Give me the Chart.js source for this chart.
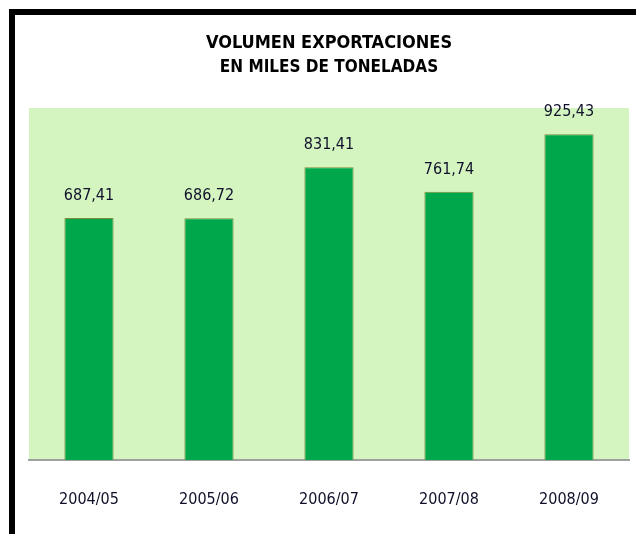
<!DOCTYPE html>
<html>
<head>
<meta charset="utf-8">
<script src="https://cdn.jsdelivr.net/npm/chart.js@4/dist/chart.umd.min.js"></script>
<style>
  html, body { margin: 0; padding: 0; background: #fff; }
  #frame {
    position: absolute; left: 9px; top: 9px; width: 640px; height: 540px;
    border-top: 6px solid #000; border-left: 6px solid #000;
  }
  #chart { position: absolute; left: 0; top: 0; }
</style>
</head>
<body>
<div id="frame"></div>
<canvas id="chart" width="636" height="534"></canvas>
<script>
// datos
const campanas = ['2004/05', '2005/06', '2006/07', '2007/08', '2008/09'];
const volumen = [687.41, 686.72, 831.41, 761.74, 925.43];
const titulo = 'VOLUMEN EXPORTACIONES';
const subtitulo = 'EN MILES DE TONELADAS';

const FONT = "'DejaVu Sans Condensed', 'DejaVu Sans', sans-serif";

function formatValor(v) {
  return v.toFixed(2).replace('.', ',');
}

// fondo verde claro del area de trazado
const fondoArea = {
  id: 'fondoArea',
  beforeDraw(chart) {
    const { ctx, chartArea: a } = chart;
    ctx.save();
    ctx.fillStyle = '#d4f5c0';
    ctx.fillRect(a.left, a.top, a.right - a.left, a.bottom - a.top);
    ctx.restore();
  }
};

// etiquetas con el valor encima de cada barra
const etiquetas = {
  id: 'etiquetas',
  afterDatasetsDraw(chart) {
    const { ctx } = chart;
    const meta = chart.getDatasetMeta(0);
    ctx.save();
    ctx.font = '16px ' + FONT;
    ctx.fillStyle = '#10102a';
    ctx.textAlign = 'center';
    ctx.textBaseline = 'middle';
    meta.data.forEach((bar, i) => {
      ctx.fillText(formatValor(volumen[i]), bar.x, bar.y - 22);
    });
    ctx.restore();
  }
};

new Chart(document.getElementById('chart').getContext('2d'), {
  type: 'bar',
  data: {
    labels: campanas,
    datasets: [{
      data: volumen,
      backgroundColor: '#00a84b',
      borderColor: '#7f8c3c',
      borderWidth: 1,
      barPercentage: 0.41,
      categoryPercentage: 1
    }]
  },
  options: {
    responsive: false,
    animation: false,
    layout: { padding: { left: 29, right: 7, top: 0, bottom: 27 } },
    plugins: {
      legend: { display: false },
      tooltip: { enabled: false },
      title: {
        display: true,
        text: titulo,
        color: '#000',
        font: { family: FONT, size: 18, weight: 'bold', lineHeight: 1.2 },
        padding: { top: 33, bottom: 3 }
      },
      subtitle: {
        display: true,
        text: subtitulo,
        color: '#000',
        font: { family: FONT, size: 17, weight: 'bold', lineHeight: 1.2 },
        padding: { top: 0, bottom: 30 }
      }
    },
    scales: {
      x: {
        grid: { display: false, drawTicks: false },
        border: { display: true, color: '#a0a0a0', width: 2 },
        ticks: { color: '#10102a', padding: 30, font: { family: FONT, size: 16, lineHeight: 1.2 } },
        afterFit(scale) { scale.height = 47; }
      },
      y: {
        display: false,
        min: 0,
        max: 1000
      }
    }
  },
  plugins: [fondoArea, etiquetas]
});
</script>
</body>
</html>
